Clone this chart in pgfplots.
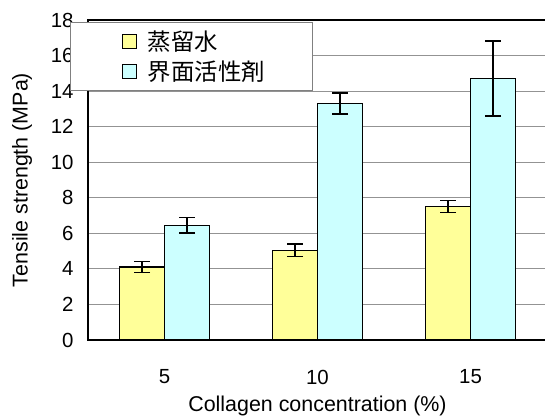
\documentclass[border=0pt]{standalone}
\usepackage{pgfplots}
\pgfplotsset{compat=1.18}
\usepackage{pgfplotstable}
\usepackage{fontspec}
\setmainfont{Liberation Sans}
\newfontfamily\jp{Noto Sans CJK JP}
\definecolor{barY}{RGB}{255,255,153}
\definecolor{barC}{RGB}{204,255,255}
\pgfplotstableread{
x y ey
0 4.10 0.31
1 5.05 0.36
2 7.52 0.34
}\water
\pgfplotstableread{
x y ey
0 6.45 0.43
1 13.30 0.59
2 14.70 2.11
}\surf
\begin{document}
\begin{tikzpicture}
\begin{axis}[
  at={(88bp,78bp)}, anchor=south west,
  scale only axis, width=459bp, height=320bp,
  xmin=-0.5, xmax=2.5, ymin=0, ymax=18,
  ytick={0,2,...,18},
  xtick={0,1,2}, xticklabels={5,10,15},
  major x tick style={draw=none},
  extra x ticks={0.5,1.5}, extra x tick labels={},
  extra x tick style={major tick length=5bp, tick style={draw=gray, line width=0.8bp}, grid=none},
  major y tick style={draw=none},
  ymajorgrids, grid style={draw=gray!85, line width=0.9bp},
  axis line style={line width=1.6bp},
  /pgf/number format/assume math mode=true,
  tick label style={font=\fontsize{20.5}{22}\selectfont},
  xticklabel style={yshift=-22bp},
  yticklabel style={xshift=-11bp},
  ylabel={Tensile strength (MPa)},
  ylabel style={font=\fontsize{21.5}{24}\selectfont, at={(axis description cs:-0.1438,0.5)}, anchor=center},
  xlabel={Collagen concentration (\%)},
  xlabel style={font=\fontsize{21.5}{24}\selectfont, at={(axis description cs:0.5,0)}, anchor=base, yshift=-71bp},
  ybar, bar width=45bp,
  legend style={at={(axis description cs:-0.0392,0.99375)}, anchor=north west,
    draw=gray, line width=0.8bp, fill=white, inner xsep=0bp, inner ysep=4bp,
    font=\jp\fontsize{23.5}{26}\selectfont, row sep=0bp,
    /tikz/every odd column/.append style={column sep=9bp}},
  legend cell align=left,
  legend image code/.code={\path[draw=none, fill=none] (-52bp,-15bp) rectangle (14bp,15bp);
    \draw[#1, line width=0.8bp] (0bp,-7bp) rectangle (14bp,7bp);},
]
\addplot[fill=barY, draw=black, line width=1.4bp, bar shift=-22.5bp,
  error bars/.cd, y dir=both, y explicit,
  error bar style={line width=1.4bp, black}, error mark options={rotate=90, mark size=8bp, line width=1.4bp, black}]
  table[x=x, y=y, y error=ey] {\water};
\addplot[fill=barC, draw=black, line width=1.4bp, bar shift=22.5bp,
  error bars/.cd, y dir=both, y explicit,
  error bar style={line width=1.4bp, black}, error mark options={rotate=90, mark size=8bp, line width=1.4bp, black}]
  table[x=x, y=y, y error=ey] {\surf};
\legend{蒸留水, 界面活性剤\hspace*{46bp}}
\end{axis}
\pgfresetboundingbox
\path[use as bounding box] (0,0) rectangle (545bp,418bp);
\end{tikzpicture}
\end{document}
